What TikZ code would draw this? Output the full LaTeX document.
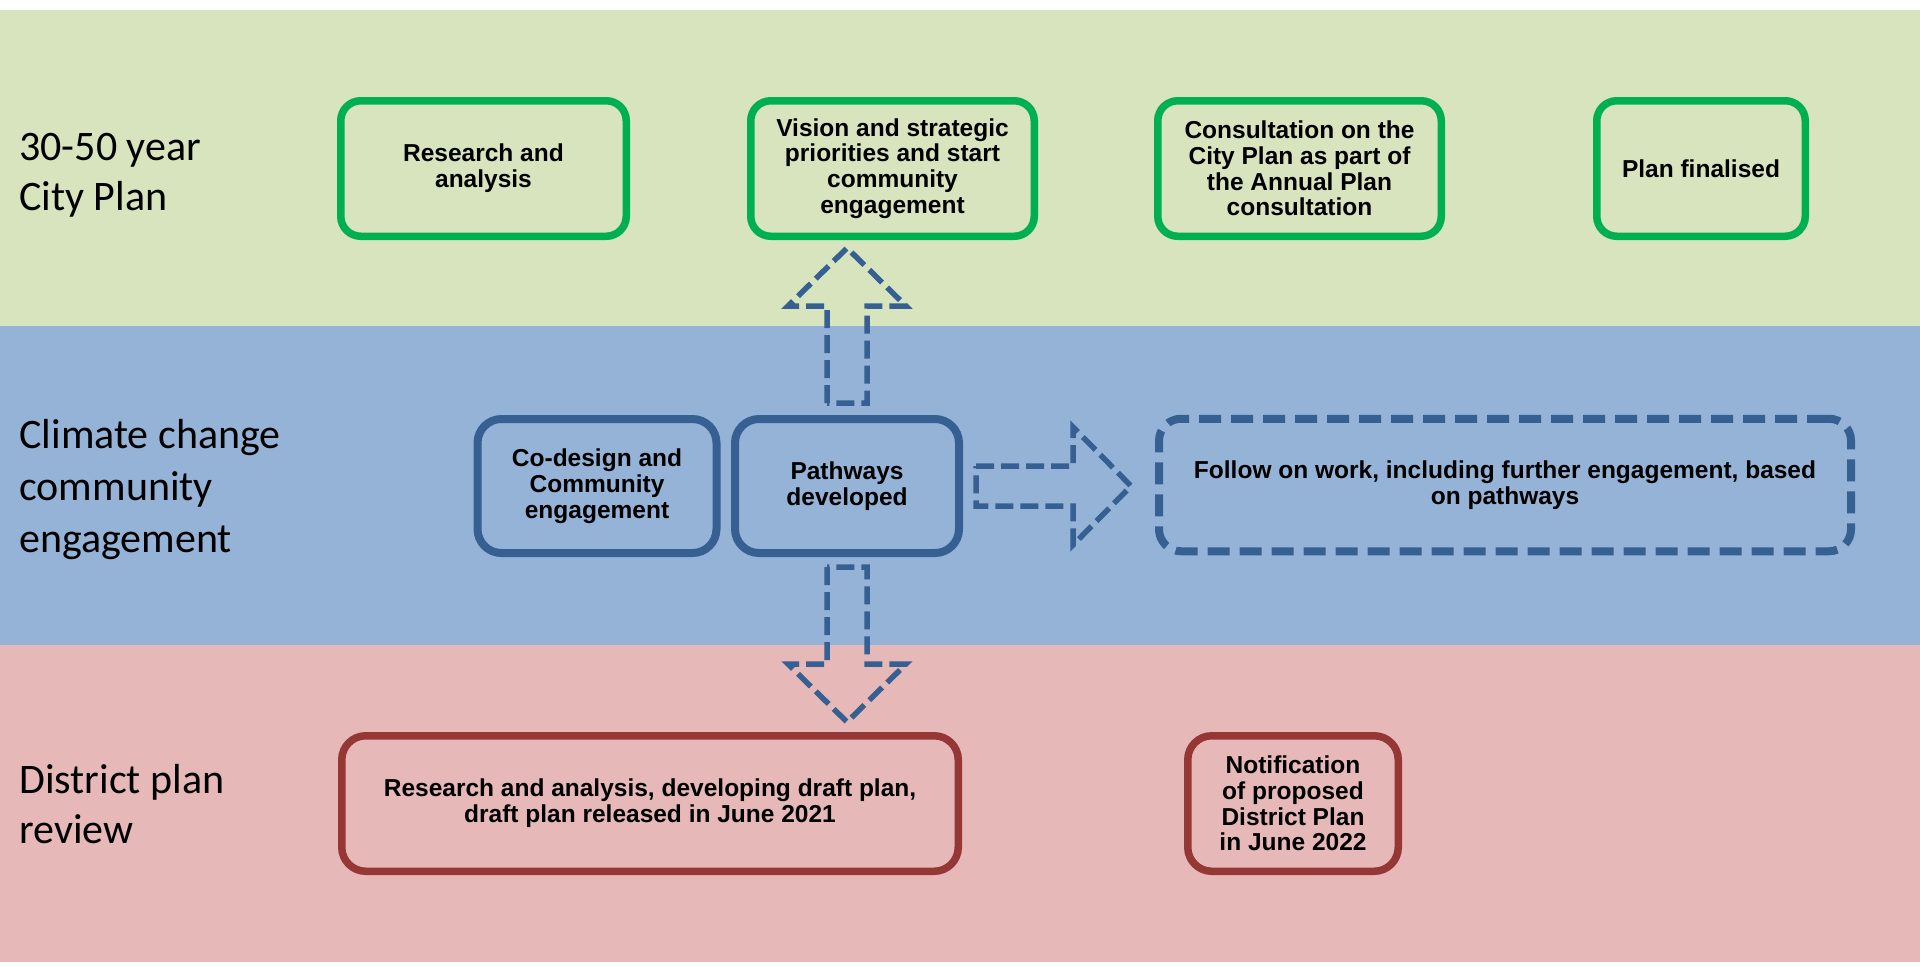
\documentclass[tikz,border=0pt]{standalone}
\usepackage{fontspec}
\usetikzlibrary{calc}
\newfontfamily\boxfont{Liberation Sans}
\newfontfamily\lanefont{Carlito}

\definecolor{cityband}{HTML}{D7E4BD}
\definecolor{climateband}{HTML}{95B3D7}
\definecolor{districtband}{HTML}{E6B9B8}
\definecolor{cityline}{HTML}{00B050}
\definecolor{climateline}{HTML}{376092}
\definecolor{districtline}{HTML}{953735}

\tikzset{
  stage/.style={rounded corners=11pt, line width=3.75pt, align=center,
    inner sep=0pt, text=black, minimum height=67.75pt,
    font=\boxfont\bfseries\fontsize{12.25}{12.9}\selectfont},
  citystage/.style={stage, draw=cityline, rounded corners=10pt},
  climatestage/.style={stage, draw=climateline, line width=4pt,
    minimum height=67pt, rounded corners=12pt},
  nextstage/.style={stage, draw=climateline, line width=4pt,
    dash pattern=on 11pt off 5pt, minimum height=66.25pt},
  districtstage/.style={stage, draw=districtline, rounded corners=12pt},
  lanelabel/.style={anchor=base west, inner sep=0pt, text=black,
    font=\lanefont\fontsize{21}{25}\selectfont},
  blockarrow/.style={draw=climateline, line width=2.75pt,
    dash pattern=on 9pt off 3.5pt, line join=miter}
}

\begin{document}
\begin{tikzpicture}[x=0.5pt, y=-0.5pt]
  \useasboundingbox (0,0) rectangle (1920,966);

  % swim lanes
  \fill[cityband] (0,10) rectangle (1920,326);
  \fill[climateband] (0,326) rectangle (1920,645);
  \fill[districtband] (0,645) rectangle (1920,962);

  % lane titles
  \node[lanelabel] (lcity) at (19,160)
    {\begin{tabular}[t]{@{}l@{}}30-50 year\\City Plan\end{tabular}};
  \node[lanelabel, font=\lanefont\fontsize{21}{26}\selectfont] (lclimate) at (19,448)
    {\begin{tabular}[t]{@{}l@{}}Climate change\\community\\engagement\end{tabular}};
  \node[lanelabel] (ldistrict) at (19,793)
    {\begin{tabular}[t]{@{}l@{}}District plan\\review\end{tabular}};

  % City Plan stages
  \node[citystage, minimum width=142.75pt] (cp1) at (483.5,168.5)
    {Research and\\analysis};
  \node[citystage, minimum width=141.75pt] (cp2) at (892.5,168.5)
    {Vision and strategic\\priorities and start\\community\\engagement};
  \node[citystage, minimum width=141.75pt] (cp3) at (1299.5,168.5)
    {Consultation on the\\City Plan as part of\\the Annual Plan\\consultation};
  \node[citystage, minimum width=104.25pt] (cp4) at (1701,168.5)
    {Plan finalised};

  % climate change engagement stages
  \node[climatestage, minimum width=119.5pt] (cc1) at (597,486)
    {Co-design and\\Community\\engagement};
  \node[climatestage, minimum width=112pt] (pw) at (847,486)
    {Pathways\\developed};
  \node[nextstage, minimum width=346pt] (fw) at (1505,485)
    {Follow on work, including further engagement, based\\on pathways};

  % district plan stages
  \node[districtstage, minimum width=308.25pt] (dp1) at (650,803.5)
    {Research and analysis, developing draft plan,\\draft plan released in June 2021};
  \node[districtstage, minimum width=105.25pt] (dp2) at (1293,803.5)
    {Notification\\of proposed\\District Plan\\in June 2022};

  % block arrows leaving the pathways stage
  \draw[blockarrow] ($(pw.north)+(-20,-12)$) -- ++(0,-97) -- ++(-39,0)
    -- ++(59,-58) -- ++(59,58) -- ++(-39,0) -- ++(0,97) -- cycle;
  \draw[blockarrow] ($(pw.east)+(13,-20)$) -- ++(97,0) -- ++(0,-39)
    -- ++(58,59) -- ++(-58,59) -- ++(0,-39) -- ++(-97,0) -- cycle;
  \draw[blockarrow] ($(pw.south)+(-20,10)$) -- ++(0,97) -- ++(-39,0)
    -- ++(59,58) -- ++(59,-58) -- ++(-39,0) -- ++(0,-97) -- cycle;
\end{tikzpicture}
\end{document}
